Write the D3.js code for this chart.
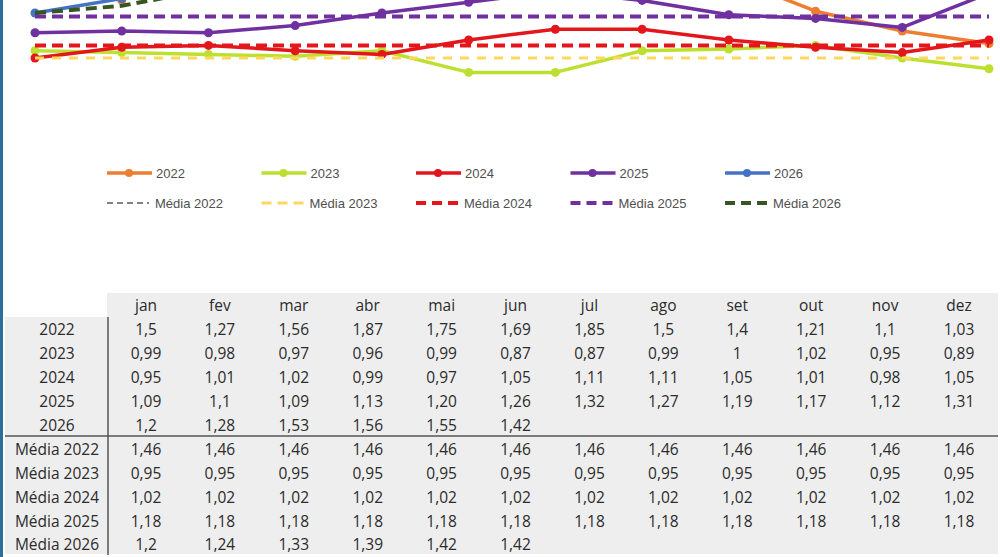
<!DOCTYPE html>
<html>
<head>
<meta charset="utf-8">
<script src="https://cdn.jsdelivr.net/npm/d3@7"></script>
<style>
  body { margin: 0; background: #fff; }
  svg { display: block; }
</style>
</head>
<body>
<div id="viz-container"></div>
<script>

// meses e valores (como aparecem na tabela)
let months = ["jan","fev","mar","abr","mai","jun","jul","ago","set","out","nov","dez"];
let years = ["2022","2023","2024","2025","2026"];
let v2022 = ["1,5","1,27","1,56","1,87","1,75","1,69","1,85","1,5","1,4","1,21","1,1","1,03"];
let v2023 = ["0,99","0,98","0,97","0,96","0,99","0,87","0,87","0,99","1","1,02","0,95","0,89"];
let v2024 = ["0,95","1,01","1,02","0,99","0,97","1,05","1,11","1,11","1,05","1,01","0,98","1,05"];
let v2025 = ["1,09","1,1","1,09","1,13","1,20","1,26","1,32","1,27","1,19","1,17","1,12","1,31"];
let v2026 = ["1,2","1,28","1,53","1,56","1,55","1,42"];
let m2022 = ["1,46","1,46","1,46","1,46","1,46","1,46","1,46","1,46","1,46","1,46","1,46","1,46"];
let m2023 = ["0,95","0,95","0,95","0,95","0,95","0,95","0,95","0,95","0,95","0,95","0,95","0,95"];
let m2024 = ["1,02","1,02","1,02","1,02","1,02","1,02","1,02","1,02","1,02","1,02","1,02","1,02"];
let m2025 = ["1,18","1,18","1,18","1,18","1,18","1,18","1,18","1,18","1,18","1,18","1,18","1,18"];
let m2026 = ["1,2","1,24","1,33","1,39","1,42","1,42"];

let seriesVals = [v2022, v2023, v2024, v2025, v2026];
let mediaVals = [m2022, m2023, m2024, m2025, m2026];
let seriesColors = ["#ED7D31","#BDE030","#E3161C","#7030A0","#4472C4"];
let mediaColors = ["#595959","#FFD75E","#E3161C","#7030A0","#375623"];
let mediaWidths = [1.5, 3, 4, 4, 4];
let mediaDash = ["5,5", "9,8", "11,6", "11,6", "11,6"];

function num(s){ return +s.replace(",", "."); }

let viz = d3.select("#viz-container")
    .append("svg")
        .attr("width", 1000)
        .attr("height", 557)
        .style("background-color", "white");

let x = d3.scalePoint().domain(months).range([35, 989]);
let y = d3.scaleLinear().domain([0.8, 1.3]).range([85, -5]);

let line = d3.line()
    .x(function(d,i){ return x(months[i]); })
    .y(function(d){ return y(num(d)); });

// linhas dos anos
seriesVals.forEach(function(vals, k){
    viz.append("path")
        .attr("d", line(vals))
        .attr("fill", "none")
        .attr("stroke", seriesColors[k])
        .attr("stroke-width", 3.5)
        .attr("stroke-linejoin", "round");
    viz.selectAll(".dot" + k).data(vals).enter().append("circle")
        .attr("class", "dot" + k)
        .attr("cx", function(d,i){ return x(months[i]); })
        .attr("cy", function(d){ return y(num(d)); })
        .attr("r", 4.5)
        .attr("fill", seriesColors[k]);
});

// medias (tracejadas)
mediaVals.forEach(function(vals, k){
    viz.append("path")
        .attr("d", line(vals))
        .attr("fill", "none")
        .attr("stroke", mediaColors[k])
        .attr("stroke-width", mediaWidths[k])
        .attr("stroke-dasharray", mediaDash[k]);
});

// legenda
let legX = d3.scalePoint().domain(years).range([107, 725]);
years.forEach(function(yr, k){
    let lx = legX(yr);
    viz.append("line")
        .attr("x1", lx).attr("x2", lx + 45)
        .attr("y1", 173).attr("y2", 173)
        .attr("stroke", seriesColors[k]).attr("stroke-width", 3.5);
    viz.append("circle")
        .attr("cx", lx + 22).attr("cy", 173).attr("r", 4)
        .attr("fill", seriesColors[k]);
    viz.append("text")
        .text(yr)
        .attr("x", lx + 49).attr("y", 177.5)
        .attr("font-family", "Liberation Sans, Arial, sans-serif")
        .attr("font-size", 13)
        .attr("fill", "#505050");

    viz.append("line")
        .attr("x1", lx).attr("x2", lx + 42)
        .attr("y1", 203).attr("y2", 203)
        .attr("stroke", mediaColors[k])
        .attr("stroke-width", mediaWidths[k])
        .attr("stroke-dasharray", k == 0 ? "6,4" : "10,6");
    viz.append("text")
        .text("Média " + yr)
        .attr("x", lx + 48).attr("y", 207.5)
        .attr("font-family", "Liberation Sans, Arial, sans-serif")
        .attr("font-size", 13)
        .attr("fill", "#505050");
});

// tabela
let rowLabels = years.concat(years.map(function(yr){ return "Média " + yr; }));
let rowVals = seriesVals.concat(mediaVals);
let colX = d3.scalePoint().domain(months).range([146, 959]);
let rowY = d3.scalePoint().domain(["head"].concat(rowLabels)).range([306, 545]);

viz.append("rect")
    .attr("x", 107).attr("y", 293).attr("width", 891).attr("height", 24)
    .attr("fill", "#eeeeee");
viz.append("rect")
    .attr("x", 5).attr("y", 317).attr("width", 993).attr("height", 237)
    .attr("fill", "#eeeeee");

viz.append("line")
    .attr("x1", 108).attr("x2", 108).attr("y1", 317).attr("y2", 555)
    .attr("stroke", "#555").attr("stroke-width", 1.5);
viz.append("line")
    .attr("x1", 5).attr("x2", 998).attr("y1", 436).attr("y2", 436)
    .attr("stroke", "#555").attr("stroke-width", 1.5);

let tfont = "Open Sans, DejaVu Sans, sans-serif";

viz.selectAll(".head").data(months).enter().append("text")
    .attr("class", "head")
    .text(function(d){ return d; })
    .attr("x", function(d){ return colX(d); })
    .attr("y", rowY("head"))
    .attr("dy", "0.35em")
    .attr("text-anchor", "middle")
    .attr("font-family", tfont).attr("font-size", 15.5)
    .attr("fill", "#2b2b2b");

let rows = viz.selectAll(".row").data(rowLabels).enter().append("g")
    .attr("class", "row")
    .attr("transform", function(d){ return "translate(0," + rowY(d) + ")"; });

rows.append("text")
    .text(function(d){ return d; })
    .attr("x", 57)
    .attr("dy", "0.35em")
    .attr("text-anchor", "middle")
    .attr("font-family", tfont).attr("font-size", 15.5)
    .attr("fill", "#2b2b2b");

rows.each(function(d, r){
    d3.select(this).selectAll(".cell").data(rowVals[r]).enter().append("text")
        .attr("class", "cell")
        .text(function(v){ return v; })
        .attr("x", function(v,i){ return colX(months[i]); })
        .attr("dy", "0.35em")
        .attr("text-anchor", "middle")
        .attr("font-family", tfont).attr("font-size", 15.5)
        .attr("fill", "#2b2b2b");
});

// borda azul a esquerda
viz.append("rect")
    .attr("x", 0).attr("y", 0).attr("width", 3).attr("height", 557)
    .attr("fill", "#2f6d9b");

</script>
</body>
</html>
